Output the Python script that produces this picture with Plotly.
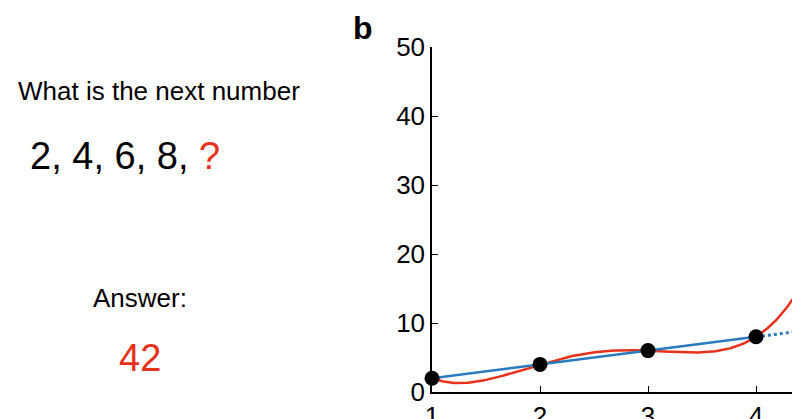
import numpy as np
import plotly.graph_objects as go

positions = [1, 2, 3, 4]
sequence = [2, 4, 6, 8]
answer = 42
x_ticks = [1, 2, 3, 4]
y_ticks = [0, 10, 20, 30, 40, 50]

RED = "#e8311a"
BLUE = "#2a7ac0"
W, H = 800, 419
L, R, T, B = 424, 0, 39, 35

coef = np.polyfit(positions + [5], sequence + [answer], 4)
xs = np.linspace(1, 4.6, 300)
lin = np.polyfit(positions, sequence, 1)
xd = np.linspace(4, 4.6, 20)

fig = go.Figure()
fig.add_trace(go.Scatter(x=xs, y=np.polyval(coef, xs), mode="lines",
                         line=dict(color=RED, width=2.5)))
fig.add_trace(go.Scatter(x=positions, y=np.polyval(lin, positions), mode="lines",
                         line=dict(color=BLUE, width=2.5)))
fig.add_trace(go.Scatter(x=xd, y=np.polyval(lin, xd), mode="lines",
                         line=dict(color=BLUE, width=3, dash="dot")))
fig.add_trace(go.Scatter(x=positions, y=sequence, mode="markers",
                         marker=dict(color="black", size=15), cliponaxis=False))

def px(x):
    return (x - L) / (W - L - R)

def py(y):
    return 1 - (y - T) / (H - T - B)

font = "Liberation Sans, Arial, sans-serif"
anns = [
    dict(text="What is the next number", x=px(294), y=py(83), xanchor="right", size=26, color="black"),
    dict(text="2, 4, 6, 8, <span style='color:%s'>?</span>" % RED, x=px(20), y=py(148), xanchor="left", size=38, color="black"),
    dict(text="Answer:", x=px(132), y=py(290), xanchor="center", size=26, color="black"),
    dict(text=str(answer), x=px(132), y=py(350), xanchor="center", size=38, color=RED),
    dict(text="<b>b</b>", x=px(355), y=py(20), xanchor="center", size=32, color="black"),
]
for a in anns:
    fig.add_annotation(text=a["text"], x=a["x"], y=a["y"], xref="paper", yref="paper",
                       xanchor=a["xanchor"], yanchor="middle", showarrow=False,
                       font=dict(size=a["size"], color=a["color"], family=font))

fig.update_layout(
    width=W, height=H, margin=dict(l=L, r=R, t=T, b=B, autoexpand=False),
    plot_bgcolor="white", paper_bgcolor="white", showlegend=False,
    font=dict(family=font, size=26, color="black"),
)
fig.update_xaxes(range=[1, 1 + (W - L) / 108], tickvals=x_ticks, showgrid=False, zeroline=False,
                 showline=True, linecolor="black", linewidth=1.5, ticks="inside",
                 ticklen=6, tickcolor="black", tickfont=dict(size=26), automargin=False)
fig.update_yaxes(range=[0, 50], tickvals=y_ticks, showgrid=False, zeroline=False,
                 showline=True, linecolor="black", linewidth=1.5, ticks="inside",
                 ticklen=6, tickcolor="black", tickfont=dict(size=26), automargin=False)

fig.write_html("out.html")
